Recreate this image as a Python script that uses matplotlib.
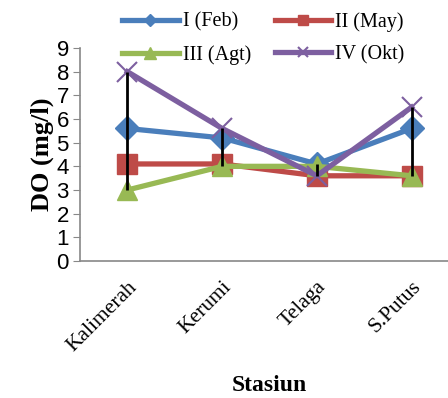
import matplotlib
matplotlib.use("Agg")
import matplotlib.pyplot as plt
import numpy as np

stations = ["Kalimerah", "Kerumi", "Telaga", "S.Putus"]
feb = [5.6, 5.2, 4.1, 5.6]
may = [4.1, 4.1, 3.6, 3.6]
agt = [3.0, 4.0, 4.0, 3.6]
okt = [8.0, 5.6, 3.6, 6.5]

series = [
    ("I (Feb)", feb, "#4a7ebb", "D", 12),
    ("II (May)", may, "#be4b48", "s", 14),
    ("III (Agt)", agt, "#98b954", "^", 15),
    ("IV (Okt)", okt, "#7d5fa0", "x", 14),
]

fig = plt.figure(figsize=(4.48, 3.98), dpi=100)
ax = fig.add_axes([80 / 448, 1 - 261 / 398, 379 / 448, 213 / 398])

x = np.arange(len(stations))
allv = np.array([feb, may, agt, okt])
ax.vlines(x, allv.min(axis=0), allv.max(axis=0), color="black", lw=2, zorder=5)

handles = []
for name, vals, col, mk, ms in series:
    h, = ax.plot(x, vals, color=col, lw=3.8, marker=mk, markersize=ms,
                 markeredgewidth=1.5 if mk == "x" else 1, label=name, zorder=3)
    handles.append(h)

ax.set_xlim(-0.5, 3.5)
ax.set_ylim(0, 9)
ax.set_yticks(range(0, 10))
ax.set_yticklabels([str(i) for i in range(10)], fontfamily="Liberation Sans", fontsize=16)
ax.set_xticks(x)
ax.set_xticklabels(stations, rotation=45, ha="right", rotation_mode="anchor",
                   fontfamily="Liberation Serif", fontsize=15.5)
ax.tick_params(axis="x", length=0, pad=12)
ax.tick_params(axis="y", length=5, color="#888888", pad=3)
for s in ["top", "right"]:
    ax.spines[s].set_visible(False)
for s in ["left", "bottom"]:
    ax.spines[s].set_color("#888888")
    ax.spines[s].set_linewidth(1.2)

ax.set_ylabel("DO (mg/l)", fontfamily="Liberation Serif", fontweight="bold", fontsize=19, labelpad=2)
ax.set_xlabel("Stasiun", fontfamily="Liberation Serif", fontweight="bold", fontsize=17, labelpad=14)

# row-major legend order: I, II / III, IV
order = [0, 2, 1, 3]
leg = fig.legend(handles=[handles[i] for i in order], ncol=2, loc="upper left",
                 bbox_to_anchor=(104 / 448, 1 + 6 / 398),
                 frameon=False, prop={"family": "Liberation Serif", "size": 14.5},
                 handlelength=2.8, handletextpad=0.2, columnspacing=1.2, labelspacing=0.65,
                 markerscale=0.55)

fig.savefig("out.png", dpi=100)
